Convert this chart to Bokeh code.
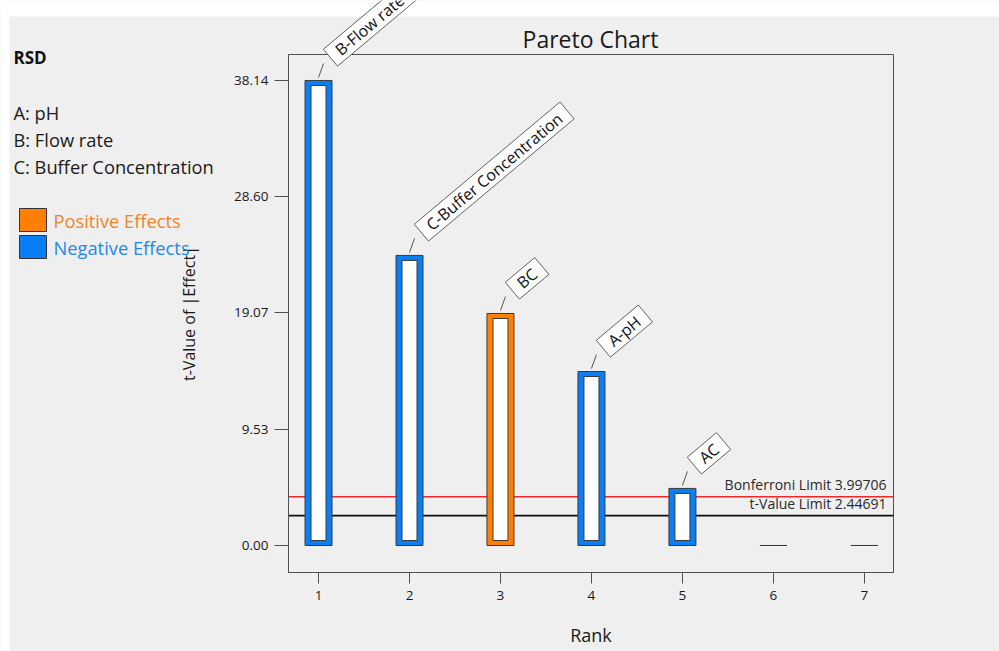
import math

from bokeh.plotting import figure
from bokeh.models import (Range1d, FixedTicker, PrintfTickFormatter, Label,
                          LinearAxis, ColumnDataSource)
from bokeh.embed import file_html
from bokeh.resources import INLINE

# ---- data -------------------------------------------------------------
response = "RSD"
factors = ["A: pH", "B: Flow rate", "C: Buffer Concentration"]
ranks = [1, 2, 3, 4, 5, 6, 7]
terms = ["B-Flow rate", "C-Buffer Concentration", "BC", "A-pH", "AC", "", ""]
t_values = [38.14, 23.79, 19.03, 14.27, 4.68, 0.0, 0.0]
effect_sign = ["negative", "negative", "positive", "negative", "negative",
               "negative", "negative"]
y_ticks = [0.00, 9.53, 19.07, 28.60, 38.14]
bonferroni_limit = 3.99706
t_value_limit = 2.44691

# ---- styling ----------------------------------------------------------
FONT = "Open Sans"
BG = "#efefef"
POS = "#ff8000"
NEG = "#0a7ef5"
POS_TXT = "#f0842a"
NEG_TXT = "#1e88f0"
INK = "#1a1a1a"
EDGE = "#3a3a3a"
AXIS = "#505050"

W, H = 999, 651
BL, BR, BT, BB = 288, 893, 54, 572          # plot box edges on the canvas
X_LO, X_HI = 0.67, 7.32                     # plot box data extent
Y_LO, Y_HI = -2.215, 40.27

xs = (X_HI - X_LO) / (BR - BL)               # data units per pixel
ys = (Y_HI - Y_LO) / (BB - BT)

# the frame spans the whole canvas; the axes sit on the plot box edges
x_range = Range1d(X_LO - BL * xs, X_HI + (W - BR) * xs)
y_range = Range1d(Y_LO - (H - BB) * ys, Y_HI + BT * ys)


def dx(px):
    return px * xs


def dy(px):
    return px * ys


def at_x(cx):
    return x_range.start + cx * xs


def at_y(cy):
    return y_range.end - cy * ys


p = figure(width=W, height=H, x_range=x_range, y_range=y_range,
           x_axis_type=None, y_axis_type=None,
           output_backend="svg", toolbar_location=None,
           min_border_left=0, min_border_right=0,
           min_border_top=0, min_border_bottom=0)
p.background_fill_color = BG
p.border_fill_color = BG
p.outline_line_color = None
p.grid.visible = False

# white strip along the top and left edge of the canvas
p.quad(left=[at_x(0), at_x(0)], right=[at_x(W), at_x(9)],
       top=[at_y(0), at_y(0)], bottom=[at_y(16), at_y(H)],
       fill_color="white", line_color=None)

# ---- axes -------------------------------------------------------------
xaxis = LinearAxis(fixed_location=Y_LO, bounds=(X_LO, X_HI),
                   ticker=FixedTicker(ticks=ranks))
yaxis = LinearAxis(fixed_location=X_LO, bounds=(Y_LO, Y_HI),
                   ticker=FixedTicker(ticks=y_ticks),
                   formatter=PrintfTickFormatter(format="%.2f"))
p.add_layout(xaxis, "below")
p.add_layout(yaxis, "left")
for ax in (xaxis, yaxis):
    ax.axis_line_color = AXIS
    ax.major_tick_line_color = AXIS
    ax.minor_tick_line_color = None
    ax.major_tick_in = 0
    ax.major_label_text_font = FONT
    ax.major_label_text_font_size = "13.5px"
    ax.major_label_text_color = INK
    ax.axis_label_text_font = FONT
    ax.axis_label_text_font_style = "normal"
    ax.axis_label_text_color = INK
xaxis.major_tick_out = 11
yaxis.major_tick_out = 14
xaxis.major_label_standoff = 7
yaxis.major_label_standoff = 6
xaxis.axis_label = "Rank"
yaxis.axis_label = "t-Value of |Effect|"
xaxis.axis_label_text_font_size = "18px"
yaxis.axis_label_text_font_size = "16px"
xaxis.axis_label_standoff = 20
yaxis.axis_label_standoff = 31

# plot box outline
p.quad(left=[X_LO], right=[X_HI], bottom=[Y_LO], top=[Y_HI],
       fill_color=None, line_color=AXIS, line_width=1)

# ---- limit lines ------------------------------------------------------
p.segment(x0=[X_LO, X_LO], x1=[X_HI, X_HI],
          y0=[bonferroni_limit, t_value_limit], y1=[bonferroni_limit, t_value_limit],
          line_color=["#f02828", "#111111"], line_width=1.6)
for val, name in [(bonferroni_limit, "Bonferroni Limit"), (t_value_limit, "t-Value Limit")]:
    p.add_layout(Label(x=X_HI - dx(7), y=val, y_offset=3,
                       text=f"{name} {val:.5f}", text_align="right",
                       text_baseline="bottom", text_font=FONT,
                       text_font_size="14px", text_color="#2a2a2a"))

# ---- bars -------------------------------------------------------------
colors = [POS if s == "positive" else NEG for s in effect_sign]
src = ColumnDataSource(dict(rank=ranks, t=t_values, color=colors))
p.vbar(x="rank", top="t", bottom=0, width=dx(27), source=src,
       fill_color="color", line_color=EDGE, line_width=1)

inner = [(r, t) for r, t in zip(ranks, t_values) if t > 1]
inner_src = ColumnDataSource(dict(rank=[r for r, _ in inner],
                                  top=[t - dy(5) for _, t in inner],
                                  bottom=[dy(5)] * len(inner)))
p.vbar(x="rank", top="top", bottom="bottom", width=dx(15), source=inner_src,
       fill_color="white", line_color=EDGE, line_width=1)

# leader lines and tilted term labels
ANG = 40
pad = 9
lead = [(r, t, name) for r, t, name in zip(ranks, t_values, terms) if name]
p.segment(x0=[r for r, _, _ in lead], y0=[t + dy(3) for _, t, _ in lead],
          x1=[r + dx(5) for r, _, _ in lead], y1=[t + dy(17) for _, t, _ in lead],
          line_color="#555555", line_width=1)
for r, t, name in lead:
    p.add_layout(Label(x=r, y=t,
                       x_offset=5 + pad * math.cos(math.radians(ANG)),
                       y_offset=17 + pad * math.sin(math.radians(ANG)),
                       angle=ANG, angle_units="deg", text=name,
                       text_align="left", text_baseline="middle",
                       text_font=FONT, text_font_size="16px", text_color="#111111",
                       background_fill_color="white", border_line_color="#606060",
                       padding=(pad, 0)))

# ---- title ------------------------------------------------------------
p.add_layout(Label(x=at_x(590), y=at_y(38), text="Pareto Chart", text_align="center",
                   text_baseline="middle", text_font=FONT, text_font_size="23px",
                   text_color=INK))

# ---- factor legend ----------------------------------------------------
p.add_layout(Label(x=at_x(13), y=at_y(57), text=response, text_baseline="middle",
                   text_font=FONT, text_font_size="17px", text_font_style="bold",
                   text_color="#111111"))
for i, f in enumerate(factors):
    p.add_layout(Label(x=at_x(13), y=at_y(112 + 27 * i), text=f, text_baseline="middle",
                       text_font=FONT, text_font_size="18.3px", text_color=INK))

swatch_fill = [POS, NEG]
swatch_top = [at_y(208), at_y(235)]
p.quad(left=[at_x(19)] * 2, right=[at_x(46)] * 2, top=swatch_top,
       bottom=[t - dy(23) for t in swatch_top], fill_color=swatch_fill,
       line_color="#333333", line_width=1)
for i, (name, txt) in enumerate([("Positive Effects", POS_TXT),
                                 ("Negative Effects", NEG_TXT)]):
    p.add_layout(Label(x=at_x(53), y=at_y(220 + 27 * i), text=name,
                       text_baseline="middle", text_font=FONT,
                       text_font_size="18.3px", text_color=txt))

open("out.html", "w").write(file_html(p, INLINE))
